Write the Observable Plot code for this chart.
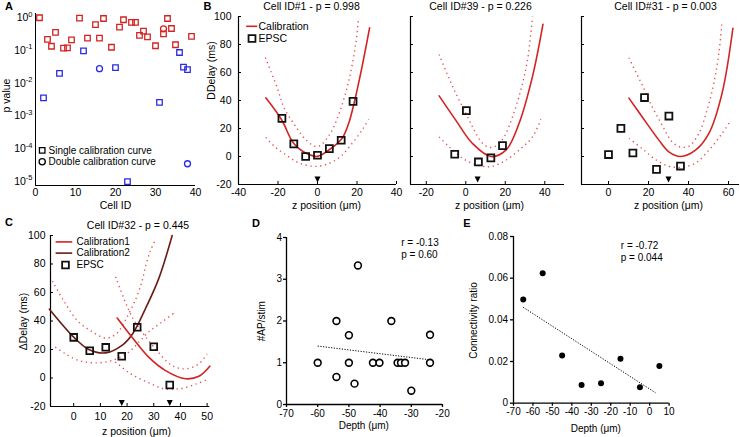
<!DOCTYPE html>
<html><head><meta charset="utf-8">
<script src="https://cdn.jsdelivr.net/npm/d3@7"></script>
<script src="https://cdn.jsdelivr.net/npm/@observablehq/plot@0.6"></script>
<style>
html,body{margin:0;padding:0;background:#fff;}
#fig{position:relative;width:740px;height:437px;overflow:hidden;background:#fff;}
#fig svg{position:absolute;overflow:visible;}
</style></head><body><div id="fig"></div>
<script>
// ---------------- Panel A ----------------
const aRedSqId = [1,3,4,5,7,8,9,11,13,15,16,17,19,21,22,24,25,26,27,28,30,32,33,34,35,39];
const aRedSqP  = [1.0,0.22,0.135,0.36,0.118,0.12,0.21,0.97,0.24,0.62,0.24,0.95,0.126,0.52,0.87,0.72,0.72,0.29,0.39,0.26,0.14,0.32,0.95,0.47,0.15,0.27];
const aRedCircId = [32];
const aRedCircP  = [0.46];
const aBlueSqId = [2,6,12,20,23,31,36,37,38];
const aBlueSqP  = [0.0036,0.02,0.098,0.03,0.00001,0.0026,0.087,0.031,0.026];
const aBlueCircId = [16,38];
const aBlueCircP  = [0.028,0.000035];
const aXTicks = [0,10,20,30,40];
const aYTicks = [1e-5,1e-4,1e-3,1e-2,1e-1,1];
const aLegend = ["Single calibration curve","Double calibration curve"];

// ---------------- Panel B ----------------
const bYTicks = [-20,0,20,40,60,80,100];
const b1Title = "Cell ID#1 - p = 0.998";
const b1XTicks = [-40,-20,0,20,40];
const b1Z = [-18,-12,-6,0,6,12,18];
const b1Delay = [27.2,9,0,0.9,5.6,11.6,39.4];
const b1CalZ = [-26.2,-18.1,-12.2,-5.4,0,6.1,12.4,15.8,18.7,22.6,26.4];
const b1CalD = [41.9,26.1,9.7,2.1,0.1,5,12.9,23.7,39.2,64.4,92];
const b1UpZ = [-26.4,-20.5,-16.8,-10.9,-5.9,0,5.9,11,16,19.4,20.7];
const b1UpD = [70.7,49.5,34.4,21.2,11.9,7,15.2,31,55,81,97.5];
const b1LoZ = [-26.2,-21.5,-16.4,-10.5,-5.4,0,5.6,11.5,17.5,22.6,25.9];
const b1LoD = [13.6,6.8,1.6,-3.9,-6.3,-7,-5.1,-0.3,9.3,18.9,26.5];
const b1Arrow = [0];

const b2Title = "Cell ID#39 - p = 0.226";
const b2XTicks = [-20,0,20,40];
const b2Z = [-5.6,0.3,6.4,12.7,18.6];
const b2Delay = [1.6,32.8,-3.9,-1,7.8];
const b2CalZ = [-13.5,-5.1,3.4,12.7,20.3,27,33.8,39.1];
const b2CalD = [43.3,26,9.3,0,4.5,23.7,57.2,94.5];
const b2UpZ = [-13.5,-9.3,-5.1,0,4.2,8.4,12,15.2,19.4,23.7,27.9,31.3,33.8];
const b2UpD = [72.9,58.5,45.3,31,19,9.5,6.5,7.5,14,28.4,47.7,69.3,100];
const b2LoZ = [-13.5,-8.4,0,8.4,13.5,20.3,27.9,33.8,38];
const b2LoD = [14,6.9,-2.7,-7,-7,-2.7,5.7,14,26.6];
const b2Arrow = [6];

const b3Title = "Cell ID#31 - p = 0.003";
const b3XTicks = [0,20,40,60];
const b3Z = [0,6.2,12.2,18,24,30.2,36];
const b3Delay = [1.4,20.1,2.5,42.1,-9.2,28.9,-6.8];
const b3CalZ = [10.2,16.8,25.2,30.2,36,43.5,50.2,56.8,62.2];
const b3CalD = [41.7,28.4,11.7,3.3,0,4.5,16.5,45.3,91.6];
const b3UpZ = [10.2,13.5,16.8,21.8,26.8,31.8,36,40.2,45.2,49.3,52.7,55.2,56.8];
const b3UpD = [70.5,60.8,51.3,35.6,22.5,10.4,6.8,7.3,16.5,33.3,52.5,74.1,96.8];
const b3LoZ = [10.2,16.8,23.5,30.2,36.8,43.5,50.2,56.8,61.3];
const b3LoD = [12.9,5.7,-2.2,-7,-7.6,-4.7,4.5,16.5,26.1];
const b3Arrow = [30];
const bLegend = ["Calibration","EPSC"];

// ---------------- Panel C ----------------
const cTitle = "Cell ID#32 - p = 0.445";
const cXTicks = [0,10,20,30,40,50];
const cYTicks = [-20,0,20,40,60,80,100];
const cZ = [0,6,12,18,23.8,30,36];
const cDelay = [28.5,19.1,21.5,15.3,35.6,21.9,-4.9];
const cCal1Z = [16.3,22.1,28.1,34.4,41.9,46.9,51];
const cCal1D = [42.1,28,14.6,5.2,-0.5,1.2,8.3];
const cCal2Z = [-9.1,0,5.6,11.9,18.1,22.1,26.9,31.9,36.9];
const cCal2D = [48.3,28.7,20,17.6,22.9,31.1,48.7,69.9,100];
const cUp1Z = [15.7,18.8,21.9,25.6,30.6,36.9,41.9,46.9,50];
const cUp1D = [71,55.8,42.8,32.3,20.5,8.7,6.4,9.9,17];
const cLo1Z = [15.6,21.2,27.5,33.7,40,46.2,50];
const cLo1D = [11.3,3.1,-2.8,-7.5,-7.5,-4,-1.1];
const cUp2Z = [-8,-3.7,1.5,6.5,12,16,19.5,23.4,25.6,27,28.7,30.6];
const cUp2D = [68,54,40,33,28,31,41,56,68,79,89,97];
const cLo2Z = [-6.9,-3.1,1.9,8.1,14.4,20.6,24.4,28.1,33.1,37.5];
const cLo2D = [21.7,16.9,12.3,10.6,12.3,18.1,25.2,32.3,39.3,45.4];
const cArrows = [18,36];
const cLegend = ["Calibration1","Calibration2","EPSC"];

// ---------------- Panel D ----------------
const dXTicks = [-70,-60,-50,-40,-30,-20];
const dYTicks = [0,1,2,3,4];
const dDepth = [-60,-54,-54,-50,-50,-48.2,-47.1,-42.3,-40.2,-36.4,-34.4,-33.3,-32,-30,-24,-24];
const dAP    = [1,2,0.66,1.66,1,0.5,3.33,1,1,2,1,1,1,0.33,1.67,1];
const dFitX = [-60,-24];
const dFitY = [1.4,1.07];
const dStats = ["r = -0.13","p = 0.60"];

// ---------------- Panel E ----------------
const eXTicks = [-70,-60,-50,-40,-30,-20,-10,0,10];
const eYTicks = [0,0.02,0.04,0.06,0.08];
const eDepth = [-65,-55,-45,-35,-25,-15,-5,5];
const eRatio = [0.0498,0.0624,0.0229,0.0087,0.0096,0.0213,0.0077,0.0179];
const eFitX = [-65,3];
const eFitY = [0.046,0.005];
const eStats = ["r = -0.72","p = 0.044"];

// ---------------- helpers ----------------
const FONT = "'Liberation Sans', Arial, Helvetica, sans-serif";
const RED = "#d42222", BROWN = "#6b1b12", BAND = "#e65252", BLUE = "#2b2be6";
const triDown = {draw(ctx, size){ const r = Math.sqrt(size/Math.PI); ctx.moveTo(-r,-r); ctx.lineTo(r,-r); ctx.lineTo(0,r); ctx.closePath(); }};
const dash = {draw(ctx, size){ const r = Math.sqrt(size/Math.PI); ctx.moveTo(-r,0); ctx.lineTo(r,0); }};
const num = d => String(d);

function place(P, opts, fs) {
  const m = {l: 50, r: 20, t: 30, b: 40};
  const svg = Plot.plot({
    width: (P.x1 - P.x0) + m.l + m.r, height: (P.y1 - P.y0) + m.t + m.b,
    marginLeft: m.l, marginRight: m.r, marginTop: m.t, marginBottom: m.b,
    style: {fontFamily: FONT, fontSize: fs + "px", background: "transparent", overflow: "visible", color: "black"},
    ...opts
  });
  svg.style.left = (P.x0 - m.l) + "px";
  svg.style.top = (P.y0 - m.t) + "px";
  document.getElementById("fig").appendChild(svg);
  return svg;
}
function T(P, X, Y, s, o = {}) {
  return Plot.text([s], {frameAnchor: "top-left", dx: X - P.x0, dy: Y - P.y0, text: d => d,
    textAnchor: "middle", lineAnchor: "middle", fill: "black", ...o});
}
function M(P, X, Y, o = {}) {
  return Plot.dot([0], {frameAnchor: "top-left", dx: X - P.x0, dy: Y - P.y0, ...o});
}
const bandStyle = {stroke: BAND, strokeWidth: 1.4, strokeDasharray: "1.3 3.6", strokeLinecap: "butt", curve: "catmull-rom"};
const fitStyle = {stroke: "black", strokeWidth: 1, strokeDasharray: "1.2 1.5", strokeLinecap: "butt"};

// ---------------- Panel A ----------------
const PA = {x0: 35, x1: 195, y0: 13, y1: 185};
const aYDom = [Math.pow(10,-5.12), Math.pow(10,0.13)];
const svgA = place(PA, {
  x: {domain: [0, 40]},
  y: {type: "log", domain: aYDom},
  marks: [
    Plot.ruleX([0], {stroke: "black"}),
    Plot.ruleY([aYDom[0]], {stroke: "black"}),
    Plot.axisX(aXTicks, {tickSize: 0, tickPadding: 3, label: null, tickFormat: num}),
    Plot.axisY(aYTicks, {tickSize: 0, tickPadding: 3, label: null, tickFormat: d => "10^" + Math.round(Math.log10(d))}),
    Plot.dot(aRedSqP, {x: aRedSqId, y: aRedSqP, symbol: "square", r: 3.1, stroke: RED, strokeWidth: 1.3}),
    Plot.dot(aRedCircP, {x: aRedCircId, y: aRedCircP, r: 3, stroke: RED, strokeWidth: 1.3}),
    Plot.dot(aBlueSqP, {x: aBlueSqId, y: aBlueSqP, symbol: "square", r: 3.1, stroke: BLUE, strokeWidth: 1.3}),
    Plot.dot(aBlueCircP, {x: aBlueCircId, y: aBlueCircP, r: 3, stroke: BLUE, strokeWidth: 1.3}),
    M(PA, 41.7, 149.8, {symbol: "square", r: 3.1, stroke: "black", strokeWidth: 1.3}),
    M(PA, 41.7, 161.3, {r: 3.1, stroke: "black", strokeWidth: 1.3}),
    T(PA, 48, 149.8, aLegend[0], {textAnchor: "start", fontSize: 10}),
    T(PA, 48, 161.3, aLegend[1], {textAnchor: "start", fontSize: 10}),
    T(PA, 8.5, 6, "A", {fontWeight: "bold", fontSize: 11}),
    T(PA, 115, 205, "Cell ID"),
    T(PA, 6.5, 95, "p value", {rotate: -90})
  ]
}, 10.5);
svgA.querySelectorAll("text").forEach(t => {
  const mm = t.textContent.match(/^10\^(-?\d+)$/);
  if (mm) {
    t.textContent = "10";
    const ts = document.createElementNS("http://www.w3.org/2000/svg", "tspan");
    ts.setAttribute("dy", "-4.5");
    ts.setAttribute("font-size", "7.5");
    ts.textContent = mm[1];
    t.appendChild(ts);
  }
});

// ---------------- Panel B ----------------
function bPanel(P, xDom, xTicks, title, titleX, xlabX, Z, D, calZ, calD, upZ, upD, loZ, loD, arrow, extra, showY) {
  place(P, {
    x: {domain: xDom},
    y: {domain: [-20, 100]},
    marks: [
      Plot.ruleX([xDom[0]], {stroke: "black", strokeWidth: 1.2}),
      Plot.ruleY([-20], {stroke: "black", strokeWidth: 1.2}),
      Plot.axisX(xTicks, {tickSize: -3, tickPadding: 7, label: null, tickFormat: num}),
      Plot.axisY(bYTicks, {tickSize: -3, tickPadding: 10, label: null, tickFormat: showY ? num : () => ""}),
      Plot.line(upD, {x: upZ, y: upD, ...bandStyle}),
      Plot.line(loD, {x: loZ, y: loD, ...bandStyle}),
      Plot.line(calD, {x: calZ, y: calD, stroke: RED, strokeWidth: 1.6, curve: "catmull-rom"}),
      Plot.dot(D, {x: Z, y: D, symbol: "square", r: 3.9, stroke: "#111", strokeWidth: 1.8}),
      Plot.dot(arrow, {x: arrow, frameAnchor: "bottom", dy: -5, symbol: triDown, r: 3, fill: "black"}),
      T(P, titleX, 6, title),
      T(P, xlabX, 205, "z position (μm)"),
      ...extra
    ]
  }, 10.5);
}
const PB1 = {x0: 238, x1: 396, y0: 16, y1: 184};
bPanel(PB1, [-40, 40], b1XTicks, b1Title, 311, 326, b1Z, b1Delay, b1CalZ, b1CalD, b1UpZ, b1UpD, b1LoZ, b1LoD, b1Arrow, [
  T(PB1, 207, 6, "B", {fontWeight: "bold", fontSize: 11}),
  T(PB1, 211, 70, "DDelay (ms)", {rotate: -90}),
  M(PB1, 251.2, 25.8, {symbol: dash, r: 5.5, stroke: RED, strokeWidth: 1.6, fill: "none"}),
  T(PB1, 258, 25.8, bLegend[0], {textAnchor: "start"}),
  M(PB1, 251.5, 38, {symbol: "square", r: 3.9, stroke: "#111", strokeWidth: 1.8}),
  T(PB1, 258, 38, bLegend[1], {textAnchor: "start"})
], true);
const PB2 = {x0: 410, x1: 564, y0: 16, y1: 184};
bPanel(PB2, [-28, 50], b2XTicks, b2Title, 480, 489, b2Z, b2Delay, b2CalZ, b2CalD, b2UpZ, b2UpD, b2LoZ, b2LoD, b2Arrow, [], false);
const PB3 = {x0: 581, x1: 739, y0: 16, y1: 184};
bPanel(PB3, [-13.5, 65.5], b3XTicks, b3Title, 665, 668, b3Z, b3Delay, b3CalZ, b3CalD, b3UpZ, b3UpD, b3LoZ, b3LoD, b3Arrow, [], false);

// ---------------- Panel C ----------------
const PC = {x0: 50, x1: 209.3, y0: 235, y1: 406};
place(PC, {
  x: {domain: [-8.7, 51]},
  y: {domain: [-20, 100]},
  marks: [
    Plot.ruleX([-8.7], {stroke: "black", strokeWidth: 1.2}),
    Plot.ruleY([-20], {stroke: "black", strokeWidth: 1.2}),
    Plot.axisX(cXTicks, {tickSize: -3, tickPadding: 9, label: null, tickFormat: num}),
    Plot.axisY(cYTicks, {tickSize: -3, tickPadding: 8, label: null, tickFormat: num}),
    Plot.line(cUp2D, {x: cUp2Z, y: cUp2D, ...bandStyle}),
    Plot.line(cLo2D, {x: cLo2Z, y: cLo2D, ...bandStyle}),
    Plot.line(cUp1D, {x: cUp1Z, y: cUp1D, ...bandStyle}),
    Plot.line(cLo1D, {x: cLo1Z, y: cLo1D, ...bandStyle}),
    Plot.line(cCal2D, {x: cCal2Z, y: cCal2D, stroke: BROWN, strokeWidth: 1.6, curve: "catmull-rom"}),
    Plot.line(cCal1D, {x: cCal1Z, y: cCal1D, stroke: RED, strokeWidth: 1.6, curve: "catmull-rom"}),
    Plot.dot(cDelay, {x: cZ, y: cDelay, symbol: "square", r: 3.8, stroke: "#111", strokeWidth: 1.8}),
    Plot.dot(cArrows, {x: cArrows, frameAnchor: "bottom", dy: -3.5, symbol: triDown, r: 3, fill: "black"}),
    T(PC, 8.5, 222, "C", {fontWeight: "bold", fontSize: 11}),
    T(PC, 137.5, 225, cTitle),
    T(PC, 136, 431, "z position (μm)"),
    T(PC, 23.3, 321, "ΔDelay (ms)", {rotate: -90}),
    M(PC, 63.4, 241.4, {symbol: dash, r: 8.3, stroke: RED, strokeWidth: 1.6, fill: "none"}),
    T(PC, 76, 241.4, cLegend[0], {textAnchor: "start", fontSize: 10}),
    M(PC, 63.4, 252.6, {symbol: dash, r: 8.3, stroke: BROWN, strokeWidth: 1.6, fill: "none"}),
    T(PC, 76, 252.6, cLegend[1], {textAnchor: "start", fontSize: 10}),
    M(PC, 65, 264.5, {symbol: "square", r: 3.8, stroke: "#111", strokeWidth: 1.8}),
    T(PC, 76, 264.5, cLegend[2], {textAnchor: "start", fontSize: 10})
  ]
}, 10.5);

// ---------------- Panel D ----------------
const PD = {x0: 286, x1: 442, y0: 237.3, y1: 404.3};
place(PD, {
  x: {domain: [-70, -20]},
  y: {domain: [0, 4]},
  marks: [
    Plot.ruleX([-70], {stroke: "black", strokeWidth: 1.3}),
    Plot.ruleY([0], {stroke: "black", strokeWidth: 1.3}),
    Plot.axisX(dXTicks, {tickSize: 3, tickPadding: 2, label: null, tickFormat: num, strokeWidth: 1.3}),
    Plot.axisY(dYTicks, {tickSize: 3, tickPadding: 1.5, label: null, tickFormat: num, strokeWidth: 1.3}),
    Plot.line(dFitY, {x: dFitX, y: dFitY, ...fitStyle}),
    Plot.dot(dAP, {x: dDepth, y: dAP, r: 3.4, stroke: "black", strokeWidth: 1.6, fill: "white"}),
    T(PD, 255.5, 223, "D", {fontWeight: "bold", fontSize: 11}),
    T(PD, 363.3, 425.5, "Depth (μm)"),
    T(PD, 261.7, 321, "#AP/stim", {rotate: -90}),
    T(PD, 400.7, 243, dStats[0], {textAnchor: "start"}),
    T(PD, 400.7, 255, dStats[1], {textAnchor: "start"})
  ]
}, 10);

// ---------------- Panel E ----------------
const PE = {x0: 512.7, x1: 668.3, y0: 236, y1: 402.7};
place(PE, {
  x: {domain: [-70, 10]},
  y: {domain: [0, 0.08]},
  marks: [
    Plot.ruleX([-70], {stroke: "black", strokeWidth: 1.3}),
    Plot.ruleY([0], {stroke: "black", strokeWidth: 1.3}),
    Plot.axisX(eXTicks, {tickSize: 3, tickPadding: 2, label: null, tickFormat: num, strokeWidth: 1.3}),
    Plot.axisY(eYTicks, {tickSize: 3, tickPadding: 2.5, label: null, tickFormat: d => d === 0 ? "0" : d.toFixed(2), strokeWidth: 1.3}),
    Plot.line(eFitY, {x: eFitX, y: eFitY, ...fitStyle}),
    Plot.dot(eRatio, {x: eDepth, y: eRatio, r: 3, fill: "black"}),
    T(PE, 466, 223, "E", {fontWeight: "bold", fontSize: 11}),
    T(PE, 595, 428.5, "Depth (μm)"),
    T(PE, 473, 320, "Connectivity ratio", {rotate: -90}),
    T(PE, 620, 245, eStats[0], {textAnchor: "start"}),
    T(PE, 620, 257.7, eStats[1], {textAnchor: "start"})
  ]
}, 10);
</script></body></html>
